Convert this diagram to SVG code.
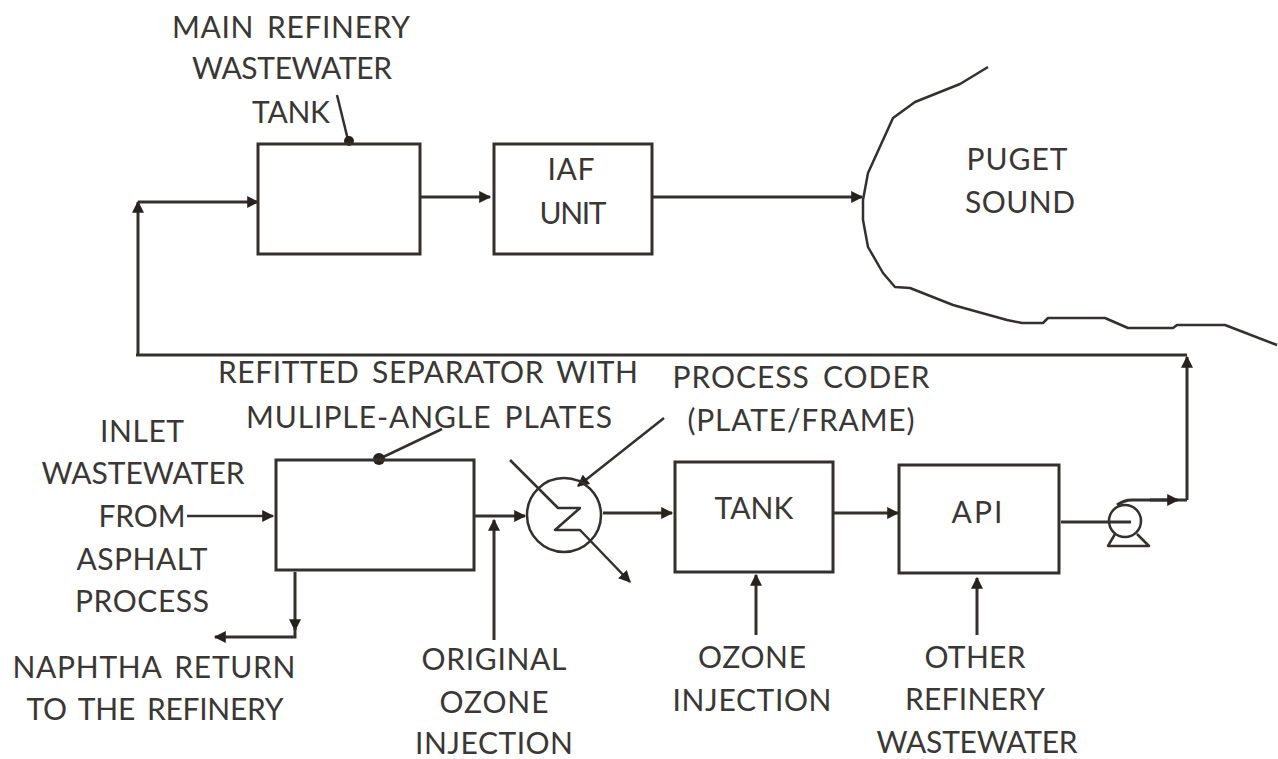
<svg xmlns="http://www.w3.org/2000/svg" width="1278" height="759" viewBox="0 0 1278 759">
<defs>
<style>
.b{fill:none;stroke:#33302e;stroke-width:3}
.l{fill:none;stroke:#33302e;stroke-width:3}
.c{fill:none;stroke:#33302e;stroke-width:2.5;stroke-linejoin:round}
.a{fill:#26231f}
text{font-family:Lato,"Liberation Sans",sans-serif;font-size:30px;fill:#3a3735;text-anchor:middle;word-spacing:.15em}
</style>
<marker id="ah" viewBox="0 0 10 10" refX="9" refY="5" markerWidth="13" markerHeight="12" markerUnits="userSpaceOnUse" orient="auto"><path class="a" d="M0 0L10 5L0 10Z"/></marker>
</defs>
<rect width="1278" height="759" fill="#fff"/>
<g id="connectors">
<path class="l" d="M138 355V202" marker-end="url(#ah)"/>
<path class="l" d="M138 202H258" marker-end="url(#ah)"/>
<path class="l" d="M421 197H490" marker-end="url(#ah)"/>
<path class="l" d="M652 197H862" marker-end="url(#ah)"/>
<path class="l" d="M136 355H1187"/>
<path class="l" d="M1187 500V357" marker-end="url(#ah)"/>
<path class="l" d="M1187 500H1132Q1124 500 1117 505"/>
<path class="l" d="M1150 500H1178" marker-end="url(#ah)"/>
<path class="c" d="M337 95L348 140"/>
<path class="c" d="M187 516H273" marker-end="url(#ah)"/>
<path class="l" d="M475 516H525" marker-end="url(#ah)"/>
<path class="l" d="M494 640V520" marker-end="url(#ah)"/>
<path class="l" d="M603 513H672" marker-end="url(#ah)"/>
<path class="l" d="M834 513H898" marker-end="url(#ah)"/>
<path class="l" d="M756 635V575" marker-end="url(#ah)"/>
<path class="l" d="M977 635V578" marker-end="url(#ah)"/>
<path class="l" d="M1061 522H1131"/>
<path class="l" d="M295 572V630" marker-end="url(#ah)"/>
<path class="l" d="M295 628V637H215" marker-end="url(#ah)"/>
<path class="c" d="M379 459L442 429"/>
<path class="c" d="M664 418L578 486" marker-end="url(#ah)"/>
<path class="c" d="M510 460L558 508H580L555 530H580L630 582" marker-end="url(#ah)"/>
</g>
<circle class="a" cx="349" cy="141" r="5"/>
<circle class="a" cx="379" cy="459" r="6"/>
<g id="puget-sound">
<path class="c" d="M988 67L960 84L915 102L893 118L883 140L868 173L863 200L863 220L868 247L883 273L895 287L910 288L953 305L1007 320L1022 323L1043 323L1048 318L1105 318L1128 328L1173 328L1177 325L1225 325L1277 345"/>
<text x="1017" y="170" textLength="101">PUGET</text>
<text x="1020" y="213" textLength="110">SOUND</text>
</g>
<g id="main-tank">
<rect class="b" x="258" y="144" width="162" height="110"/>
<text x="291" y="38" textLength="238">MAIN REFINERY</text>
<text x="292" y="79" textLength="200">WASTEWATER</text>
<text x="291" y="123" textLength="78">TANK</text>
</g>
<g id="iaf-unit">
<rect class="b" x="494" y="144" width="158" height="110"/>
<text x="571" y="180" textLength="47">IAF</text>
<text x="573" y="224" textLength="67">UNIT</text>
</g>
<g id="separator">
<rect class="b" x="276" y="460" width="198" height="110"/>
<text x="428" y="383" textLength="420">REFITTED SEPARATOR WITH</text>
<text x="429" y="428" textLength="366">MULIPLE-ANGLE PLATES</text>
</g>
<g id="coder">
<circle class="c" cx="564" cy="515" r="37"/>
<text x="801" y="388" textLength="257">PROCESS CODER</text>
<text x="801" y="431" textLength="227">(PLATE/FRAME)</text>
</g>
<g id="tank">
<rect class="b" x="675" y="462" width="158" height="110"/>
<text x="754" y="519" textLength="79">TANK</text>
</g>
<g id="api">
<rect class="b" x="899" y="465" width="160" height="108"/>
<text x="977" y="523" textLength="51">API</text>
</g>
<g id="pump">
<circle class="c" cx="1125" cy="521" r="16"/>
<path class="c" d="M1115 534L1108 546H1149L1137 534"/>
</g>
<g id="labels">
<text x="142" y="442" textLength="84">INLET</text>
<text x="143" y="484" textLength="203">WASTEWATER</text>
<text x="142" y="527" textLength="87">FROM</text>
<text x="142" y="570" textLength="131">ASPHALT</text>
<text x="142" y="612" textLength="134">PROCESS</text>
<text x="154" y="678" textLength="283">NAPHTHA RETURN</text>
<text x="155" y="720" textLength="257">TO THE REFINERY</text>
<text x="494" y="670" textLength="145">ORIGINAL</text>
<text x="494" y="713" textLength="109">OZONE</text>
<text x="494" y="754" textLength="158">INJECTION</text>
<text x="752" y="668" textLength="108">OZONE</text>
<text x="752" y="711" textLength="159">INJECTION</text>
<text x="975" y="668" textLength="101">OTHER</text>
<text x="975" y="710" textLength="140">REFINERY</text>
<text x="977" y="753" textLength="201">WASTEWATER</text>
</g>
</svg>
